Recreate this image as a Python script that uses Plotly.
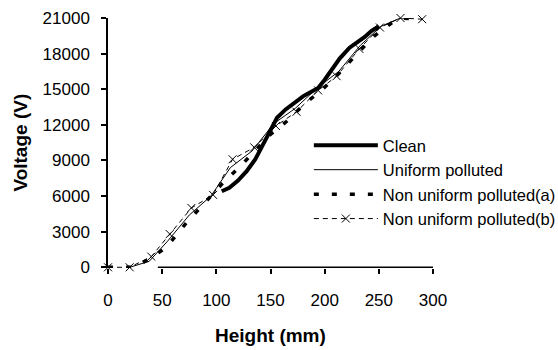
import plotly.graph_objects as go

# Voltage distribution along insulator height for four surface conditions
clean_h = [105, 112, 120, 128, 136, 146, 156, 164, 172, 180, 186, 194, 200, 207, 214, 223, 237, 243, 250]
clean_v = [6400, 6700, 7300, 8100, 9100, 10900, 12600, 13300, 13900, 14400, 14700, 15100, 15800,
           16700, 17600, 18500, 19400, 19900, 20300]

uniform_h = [20, 38, 55, 75, 95, 113, 133, 153, 173, 193, 213, 233, 252, 270]
uniform_v = [0, 500, 2200, 4400, 6000, 8400, 9800, 12100, 13400, 15100, 16500, 18700, 20300, 21000]

nonuni_a_h = [0, 20, 28, 40, 54, 71, 88, 105, 122, 136, 150, 165, 182, 198, 214, 230, 246, 262, 270, 290]
nonuni_a_v = [0, 0, 200, 800, 1700, 3600, 5300, 7000, 8500, 9800, 11200, 12300, 13800, 15000, 16400,
              18000, 19500, 20600, 21000, 20900]

nonuni_b_h = [0, 20, 40, 57, 77, 97, 115, 135, 155, 174, 194, 211, 232, 251, 270, 290]
nonuni_b_v = [0, 0, 900, 2800, 5000, 6100, 9100, 10100, 11900, 13100, 14900, 16100, 18400, 20200,
              21000, 20900]

x_ticks = [0, 50, 100, 150, 200, 250, 300]
y_ticks = [0, 3000, 6000, 9000, 12000, 15000, 18000, 21000]

FONT = "Liberation Sans, Arial, sans-serif"

fig = go.Figure()

fig.add_trace(go.Scatter(
    x=clean_h, y=clean_v, name="Clean", mode="lines",
    line=dict(color="black", width=4), legendgroup="c",
))
fig.add_trace(go.Scatter(
    x=uniform_h, y=uniform_v, name="Uniform polluted", mode="lines",
    line=dict(color="black", width=1), legendgroup="u",
))
fig.add_trace(go.Scatter(
    x=nonuni_a_h, y=nonuni_a_v, name="Non uniform polluted(a)", mode="lines",
    line=dict(color="black", width=3.5, dash="5px,13px"), legendgroup="a",
))
fig.add_trace(go.Scatter(
    x=nonuni_b_h, y=nonuni_b_v, name="Non uniform polluted(b)", mode="lines+markers",
    line=dict(color="black", width=1, dash="5px,4px"),
    marker=dict(symbol="x-thin-open", size=8, color="black",
                line=dict(color="black", width=1)),
    cliponaxis=False, legendgroup="b",
))

# x-axis baseline starts right of the origin
fig.add_shape(type="line", xref="x", yref="y", x0=46, x1=300, y0=0, y1=0,
              line=dict(color="black", width=1.5))

fig.update_layout(
    width=558, height=350,
    margin=dict(l=108, r=125, t=18, b=82, autoexpand=False),
    paper_bgcolor="white", plot_bgcolor="white",
    font=dict(family=FONT, color="black", size=17),
    showlegend=True,
    legend=dict(
        x=0.618, y=0.56, xanchor="left", yanchor="top",
        bgcolor="rgba(0,0,0,0)", borderwidth=0,
        font=dict(family=FONT, size=16.5, color="black"),
        itemwidth=64, tracegroupgap=3, traceorder="normal",
    ),
    xaxis=dict(
        range=[0, 300], tickvals=x_ticks, ticktext=[str(v) for v in x_ticks],
        showline=False, showgrid=False, zeroline=False,
        ticks="outside", ticklen=5, tickcolor="black", tickwidth=1.5,
        ticklabelstandoff=12,
        tickfont=dict(family=FONT, size=17, color="black"),
    ),
    yaxis=dict(
        range=[-60, 21000], tickvals=y_ticks, ticktext=[str(v) for v in y_ticks],
        showline=True, linecolor="black", linewidth=1.5,
        showgrid=False, zeroline=False,
        ticks="outside", ticklen=5, tickcolor="black", tickwidth=1.5,
        ticklabelstandoff=8,
        tickfont=dict(family=FONT, size=17, color="black"),
    ),
    annotations=[
        dict(text="<b>Height (mm)</b>", xref="paper", yref="paper",
             x=0.5, y=-0.27, xanchor="center", yanchor="middle", showarrow=False,
             font=dict(family=FONT, size=19, color="black")),
        dict(text="<b>Voltage (V)</b>", xref="paper", yref="paper",
             x=-0.272, y=0.5, xanchor="center", yanchor="middle", showarrow=False,
             textangle=-90, font=dict(family=FONT, size=19, color="black")),
    ],
)

fig.write_html("out.html")
